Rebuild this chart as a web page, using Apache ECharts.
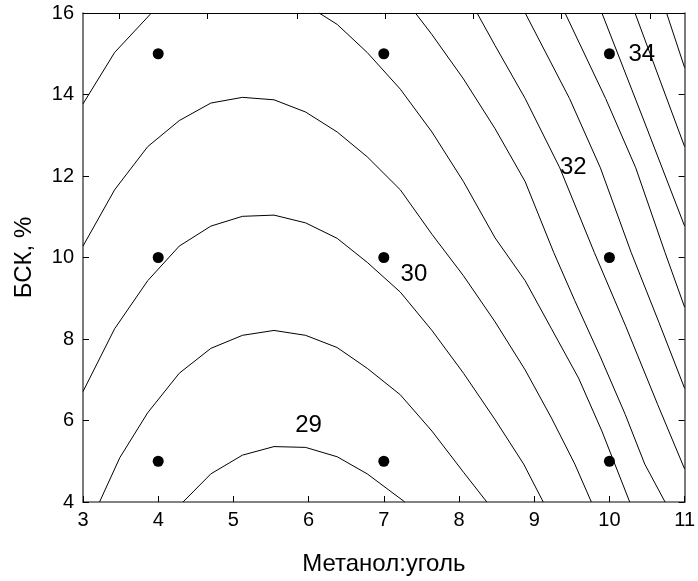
<!DOCTYPE html>
<html>
<head>
<meta charset="utf-8">
<script src="https://cdn.jsdelivr.net/npm/echarts@6/dist/echarts.min.js"></script>
<style>
  html, body { margin: 0; padding: 0; background: #fff; }
  #chart { width: 698px; height: 581px; }
</style>
</head>
<body>
<div id="chart"></div>
<script>
// Design points of the experiment (Метанол:уголь, БСК %)
const pointX = [4, 4, 4, 7, 7, 7, 10, 10, 10];
const pointY = [5, 10, 15, 5, 10, 15, 5, 10, 15];

// Iso-lines of the response surface, levels 29 ... 34.5 with step 0.5
const c290 = [[4.33,4],[4.70,4.69],[5.12,5.15],[5.54,5.36],[5.96,5.34],[6.38,5.11],[6.78,4.69],[7.28,4]];
const c295 = [[3.22,4],[3.49,5.09],[3.86,6.19],[4.28,7.16],[4.70,7.77],[5.12,8.09],[5.54,8.21],[5.96,8.09],[6.38,7.79],[6.78,7.28],[7.22,6.63],[7.64,5.74],[8.06,4.73],[8.37,4]];
const c300 = [[3.0,6.71],[3.42,8.25],[3.86,9.43],[4.28,10.28],[4.70,10.77],[5.12,11.01],[5.54,11.04],[5.96,10.85],[6.38,10.47],[6.78,9.88],[7.22,9.15],[7.64,8.21],[8.06,7.16],[8.48,6.02],[8.86,4.93],[9.12,4]];
const c305 = [[3.0,10.28],[3.42,11.66],[3.86,12.72],[4.28,13.36],[4.70,13.79],[5.12,13.93],[5.54,13.87],[5.96,13.57],[6.38,13.08],[6.78,12.47],[7.22,11.66],[7.64,10.57],[8.06,9.55],[8.48,8.42],[8.88,7.24],[9.23,6.06],[9.54,4.93],[9.76,4]];
const c310a = [[3.0,13.77],[3.42,15.03],[3.91,16]];
const c310b = [[6.14,16],[6.38,15.72],[6.78,15.03],[7.22,14.13],[7.64,13.08],[8.06,11.86],[8.48,10.48],[8.88,9.43],[9.23,8.25],[9.59,7.04],[9.90,5.74],[10.27,4]];
const c315 = [[7.42,16],[7.64,15.47],[8.06,14.38],[8.48,13.16],[8.88,11.86],[9.26,10.12],[9.54,8.94],[9.88,7.56],[10.21,6.15],[10.47,4.93],[10.74,4]];
const c320 = [[8.24,16],[8.48,15.2],[8.88,13.9],[9.34,12.2],[9.80,10.12],[10.22,8.3],[10.64,6.4],[11,4.81]];
const c325 = [[8.88,16],[9.47,13.9],[9.88,12.2],[10.29,10.12],[10.66,8.4],[11,6.79]];
const c330 = [[9.41,16],[9.95,13.9],[10.35,12.2],[10.74,10.12],[11,8.78]];
const c335 = [[9.90,16],[10.45,13.4],[11,10.77]];
const c340 = [[10.34,16],[11,12.72]];
const c345 = [[10.76,16],[11,14.66]];

// Level captions and where they sit
const levelText = ['29', '30', '32', '34'];
const levelX = [6.0, 7.40, 9.52, 10.43];
const levelY = [5.87, 9.59, 12.2, 14.99];

// Tick positions of the frame's top edge
const topTicks = [3.487, 4.658, 5.852, 7.024, 8.195, 9.366, 10.538];

const xTitle = 'Метанол:уголь';
const yTitle = 'БСК, %';

const FONT = '"Liberation Sans", Arial, sans-serif';
const frameLine = { show: true, lineStyle: { color: '#5a5a5a', width: 1.6 } };

const isoLines = [c290, c295, c300, c305, c310a, c310b, c315, c320, c325, c330, c335, c340, c345];

const chart = echarts.init(document.getElementById('chart'), null, { renderer: 'canvas' });

const series = isoLines.map(function (pts) {
  return {
    type: 'line',
    data: pts,
    showSymbol: false,
    symbol: 'none',
    smooth: false,
    silent: true,
    clip: true,
    lineStyle: { color: '#000', width: 1, opacity: 1 },
    z: 2
  };
});

series.push({
  type: 'scatter',
  data: pointX.map(function (x, i) { return [x, pointY[i]]; }),
  symbol: 'circle',
  symbolSize: 11,
  itemStyle: { color: '#000', opacity: 1 },
  silent: true,
  z: 4
});

series.push({
  type: 'scatter',
  data: levelText.map(function (t, i) { return { value: [levelX[i], levelY[i]], name: t }; }),
  symbolSize: 0,
  silent: true,
  itemStyle: { opacity: 1 },
  label: {
    show: true,
    position: 'inside',
    formatter: function (p) { return p.name; },
    color: '#000',
    opacity: 1,
    fontSize: 24,
    fontFamily: FONT
  },
  z: 5
});

chart.setOption({
  animation: false,
  backgroundColor: '#fff',
  grid: { left: 83, right: 12, top: 13, bottom: 74 },
  xAxis: [
    {
      type: 'value', min: 3, max: 11, interval: 1,
      name: xTitle, nameLocation: 'middle', nameGap: 50,
      nameTextStyle: { fontSize: 24, fontFamily: FONT, color: '#000' },
      axisLine: frameLine,
      axisTick: { show: true, inside: true, length: 6, lineStyle: { color: '#000', width: 1 } },
      axisLabel: { fontSize: 20, fontFamily: FONT, color: '#000', margin: 8 },
      splitLine: { show: false }
    },
    {
      type: 'value', min: 3, max: 11, position: 'top',
      axisLine: { show: true, lineStyle: { color: '#000', width: 1 } },
      axisTick: { show: true, inside: true, length: 6, customValues: topTicks, lineStyle: { color: '#000', width: 1 } },
      axisLabel: { show: false },
      splitLine: { show: false }
    }
  ],
  yAxis: [
    {
      type: 'value', min: 4, max: 16, interval: 2,
      name: yTitle, nameLocation: 'middle', nameGap: 47, nameRotate: 90,
      nameTextStyle: { fontSize: 24, fontFamily: FONT, color: '#000' },
      axisLine: frameLine,
      axisTick: { show: true, inside: true, length: 6, lineStyle: { color: '#000', width: 1 } },
      axisLabel: { fontSize: 20, fontFamily: FONT, color: '#000', margin: 9 },
      splitLine: { show: false }
    },
    {
      type: 'value', min: 4, max: 16, interval: 2, position: 'right',
      axisLine: frameLine,
      axisTick: { show: true, inside: true, length: 6, lineStyle: { color: '#000', width: 1 } },
      axisLabel: { show: false },
      splitLine: { show: false }
    }
  ],
  series: series
});
</script>
</body>
</html>
